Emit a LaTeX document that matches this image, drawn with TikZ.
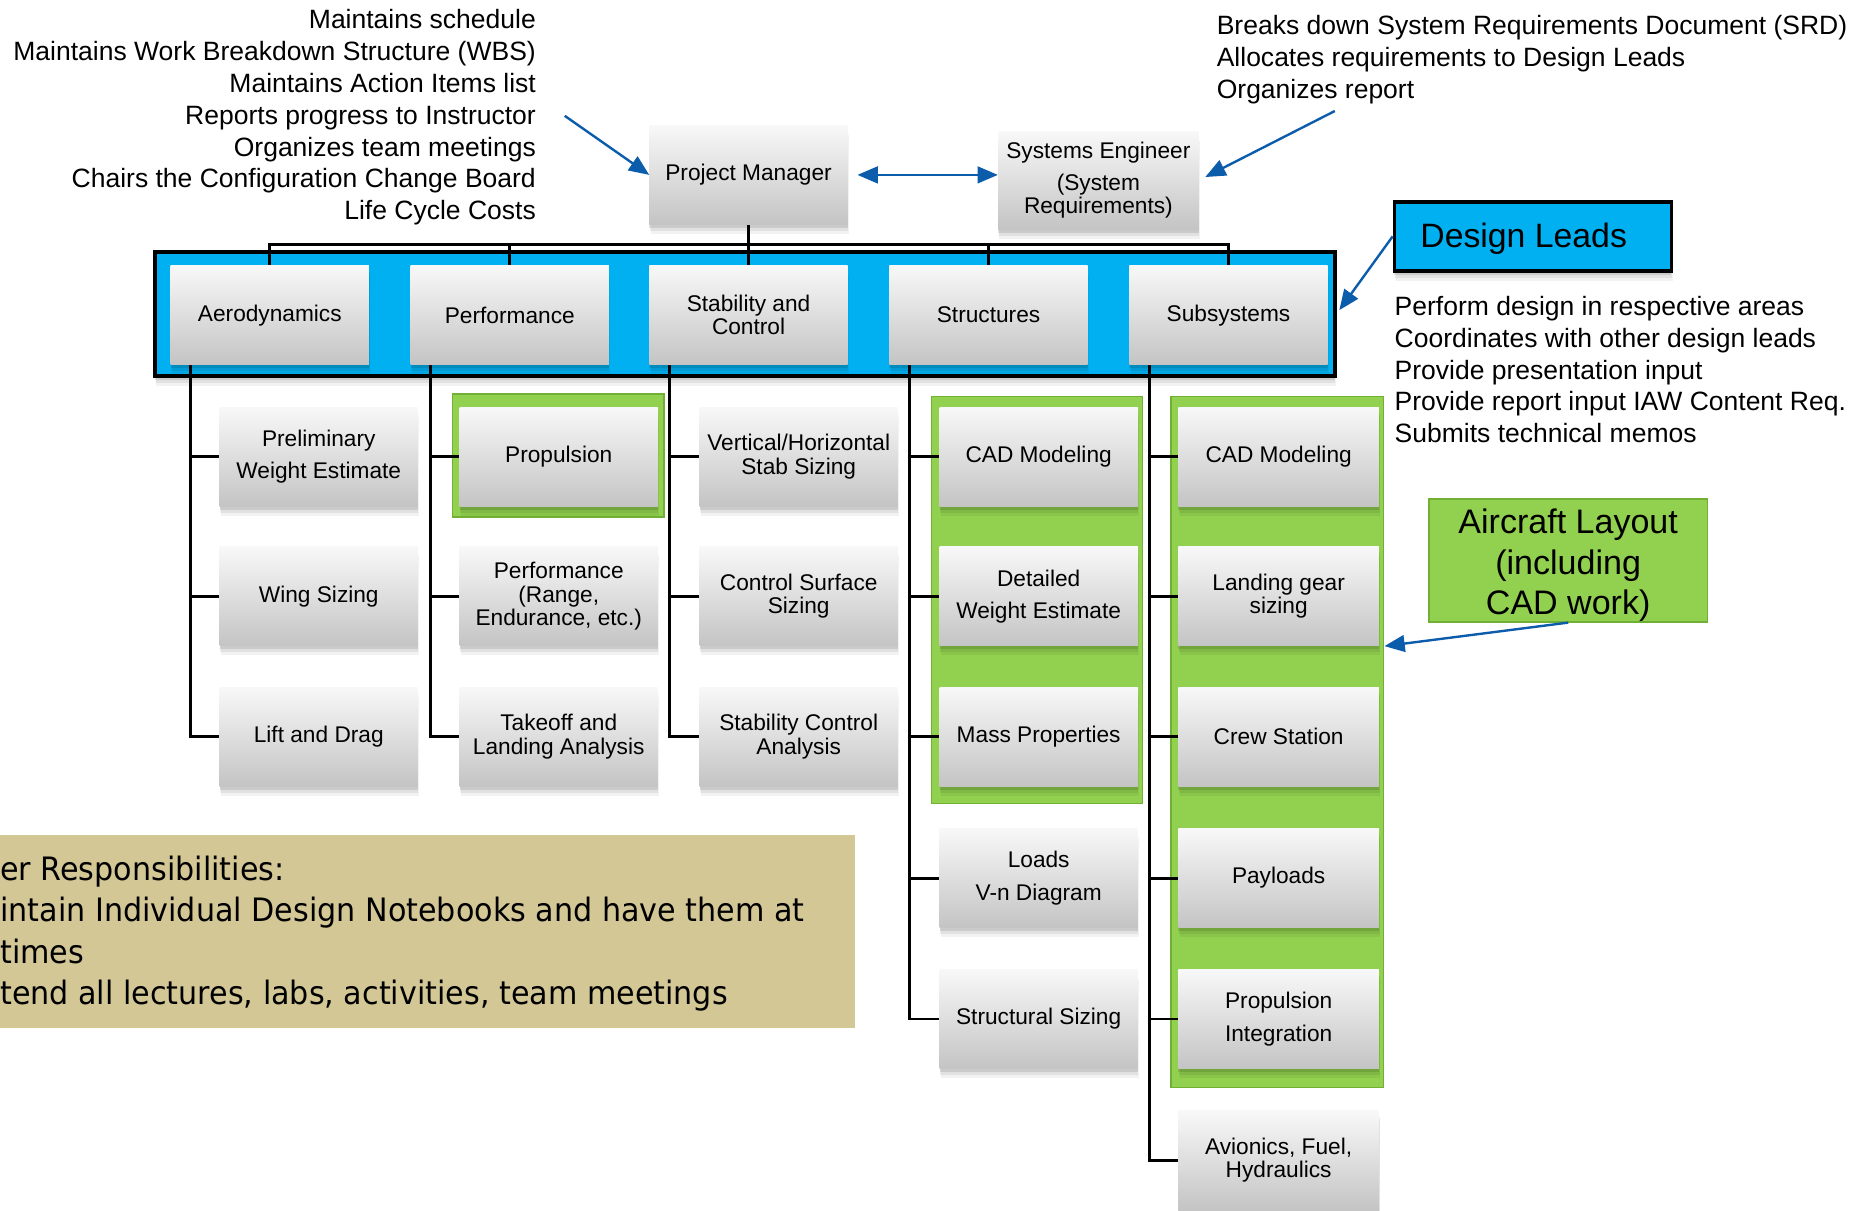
\documentclass[tikz,border=0pt]{standalone}
\usepackage{fontspec}
\setmainfont{Liberation Sans}
\newfontfamily\notefont[FakeStretch=0.936]{DejaVu Sans}
\usetikzlibrary{arrows.meta,shadows,calc}

\definecolor{boxtop}{RGB}{248,248,248}
\definecolor{boxbot}{RGB}{196,196,196}
\definecolor{leadblue}{RGB}{0,176,240}
\definecolor{cadgreen}{RGB}{146,208,80}
\definecolor{cadedge}{RGB}{112,176,52}
\definecolor{arrowblue}{RGB}{12,92,172}
\definecolor{notetan}{RGB}{211,199,150}

\pgfdeclarelayer{back}
\pgfdeclarelayer{mid}
\pgfsetlayers{back,mid,main}

\tikzset{
  softshadow/.style={
    general shadow={fill=black, opacity=0.05, shadow xshift=1pt, shadow yshift=-8pt},
    general shadow={fill=black, opacity=0.07, shadow xshift=0.5pt, shadow yshift=-5.5pt},
    general shadow={fill=black, opacity=0.10, shadow xshift=0pt, shadow yshift=-3pt}},
  taskbox/.style={rectangle, softshadow, top color=boxtop, bottom color=boxbot,
    minimum width=166pt, minimum height=83pt, inner sep=2pt, align=center,
    font=\fontsize{19}{19.5}\selectfont},
  leadband/.style={rectangle, draw=black, line width=3pt, fill=leadblue, softshadow},
  cadframe/.style={rectangle, draw=cadedge, line width=1.2pt, fill=cadgreen},
  conn/.style={draw=black, line width=2.4pt},
  bluearrow/.style={draw=arrowblue, line width=2pt, -{Triangle[length=17pt,width=14pt]}},
  notetext/.style={inner sep=0pt, font=\fontsize{22.2}{26.6}\selectfont},
}

\begin{document}
\begin{tikzpicture}[x=1pt, y=-1pt]
\useasboundingbox (0,0) rectangle (1568,1014);

% ---- free text lists ----
\node[notetext, anchor=north east, align=right] (pmnote) at (449,8)
  {Maintains schedule\\Maintains Work Breakdown Structure (WBS)\\Maintains Action Items list\\Reports progress to Instructor\\Organizes team meetings\\Chairs the Configuration Change Board\\Life Cycle Costs};
\node[notetext, anchor=north west, align=left] (senote) at (1019,13)
  {Breaks down System Requirements Document (SRD)\\Allocates requirements to Design Leads\\Organizes report};
\node[notetext, anchor=north west, align=left] (dlnote) at (1168,248)
  {Perform design in respective areas\\Coordinates with other design leads\\Provide presentation input\\Provide report input IAW Content Req.\\Submits technical memos};

% ---- management ----
\node[taskbox] (pm) at (627,146.5) {Project Manager};
\node[taskbox, minimum width=168pt, minimum height=82pt] (se) at (920,151)
  {Systems Engineer\\[7pt](System\\Requirements)};

% ---- design lead band and CAD frames ----
\begin{pgfonlayer}{back}
\node[leadband, minimum width=988pt, minimum height=104pt] (band) at (624,263) {};
\node[cadframe, minimum width=177pt, minimum height=103pt] (gfprop) at (467.5,381.5) {};
\node[cadframe, minimum width=177pt, minimum height=341pt] (gfstruc) at (868.5,502.5) {};
\node[cadframe, minimum width=178pt, minimum height=579pt] (gfsub) at (1070,621.5) {};
\end{pgfonlayer}

% ---- design leads ----
\node[taskbox] (aero)  at (226,264) {Aerodynamics};
\node[taskbox] (perf)  at (427,264) {Performance};
\node[taskbox] (stab)  at (627,264) {Stability and\\Control};
\node[taskbox] (struc) at (828,264) {Structures};
\node[taskbox] (subs)  at (1029,264) {Subsystems};

% ---- tasks ----
\node[taskbox] (pwe)  at (267,382.5) {Preliminary\\[7.5pt]Weight Estimate};
\node[taskbox] (wing) at (267,499.5) {Wing Sizing};
\node[taskbox] (lad)  at (267,617)   {Lift and Drag};

\node[taskbox] (prop)  at (468,382.5) {Propulsion};
\node[taskbox] (perfr) at (468,499.5) {Performance\\(Range,\\Endurance, etc.)};
\node[taskbox] (tla)   at (468,617)   {Takeoff and\\Landing Analysis};

\node[taskbox] (vhs) at (669,382.5) {Vertical/Horizontal\\Stab Sizing};
\node[taskbox] (css) at (669,499.5) {Control Surface\\Sizing};
\node[taskbox] (sca) at (669,617)   {Stability Control\\Analysis};

\node[taskbox] (cad1)  at (870,382.5) {CAD Modeling};
\node[taskbox] (dwe)   at (870,499.5) {Detailed\\[7.5pt]Weight Estimate};
\node[taskbox] (mass)  at (870,617)   {Mass Properties};
\node[taskbox] (loads) at (870,735.5) {Loads\\[8pt]V-n Diagram};
\node[taskbox] (ssz)   at (870,853.5) {Structural Sizing};

\node[taskbox, minimum width=168pt] (cad2) at (1071,382.5) {CAD Modeling};
\node[taskbox, minimum width=168pt] (lgs)  at (1071,499.5) {Landing gear\\sizing};
\node[taskbox, minimum width=168pt] (crew) at (1071,617)   {Crew Station};
\node[taskbox, minimum width=168pt] (pay)  at (1071,735.5) {Payloads};
\node[taskbox, minimum width=168pt] (pint) at (1071,853.5) {Propulsion\\[8pt]Integration};
\node[taskbox, minimum width=168pt] (afh)  at (1071,972)   {Avionics, Fuel,\\Hydraulics};

% ---- tree connectors ----
\coordinate (busL) at (226,205);
\coordinate (busR) at (1029,205);
\begin{pgfonlayer}{mid}
\draw[conn] (aero.north) -- (busL) -- (busR) -- (subs.north);
\draw[conn] (pm.south) -- (stab.north);
\draw[conn] (perf.north) -- (perf.north |- busL);
\draw[conn] (struc.north) -- (struc.north |- busL);
\foreach \lead/\last in {aero/lad, perf/tla, stab/sca, struc/ssz, subs/afh} {
  \coordinate (\lead-t) at ([xshift=17pt]\lead.south west);
  \draw[conn] (\lead-t) |- (\last.west);
}
\foreach \lead/\kid in {aero/pwe, aero/wing, perf/prop, perf/perfr, stab/vhs, stab/css,
    struc/cad1, struc/dwe, struc/mass, struc/loads,
    subs/cad2, subs/lgs, subs/crew, subs/pay, subs/pint} {
  \draw[conn] (\kid.west) -- (\kid.west -| \lead-t);
}
\end{pgfonlayer}

% ---- labels on the right ----
\node[leadband, minimum width=232pt, minimum height=58pt] (dl) at (1284,198) {};
\node[anchor=west, inner sep=0pt, font=\fontsize{28.3}{34}\selectfont] (dltxt)
  at ($(dl.west)+(23,2)$) {Design Leads};
\node[cadframe, line width=1pt, minimum width=233pt, minimum height=103pt] (al) at (1313.5,469.5) {};
\node[inner sep=0pt, align=center, font=\fontsize{28.5}{34}\selectfont] (altxt)
  at ($(al.center)+(0,4)$) {Aircraft Layout\\(including\\CAD work)};

% ---- team responsibilities ----
\node[rectangle, fill=notetan, minimum width=740pt, minimum height=162pt, anchor=north east]
  (note) at (716,699) {};
\node[anchor=north west, inner sep=0pt, align=left,
  font=\notefont\fontsize{27}{34.5}\selectfont] (notetxt) at (0,717)
  {er Responsibilities:\\intain Individual Design Notebooks and have them at\\times\\tend all lectures, labs, activities, team meetings};

% ---- blue pointers ----
\coordinate (pmtail) at (473,97);
\coordinate (setail) at (1118,93);
\draw[bluearrow] (pmtail) -- (pm.west);
\draw[bluearrow, shorten >=6pt] (setail) -- (se.east);
\draw[bluearrow, {Triangle[length=17pt,width=14pt]}-{Triangle[length=17pt,width=14pt]}, shorten <=8pt]
  (pm.east) -- (pm.east -| se.west);
\draw[bluearrow, shorten >=4pt] (dl.west) -- (band.east);
\draw[bluearrow] (al.south) -- (gfsub.east |- lgs.south);
\end{tikzpicture}
\end{document}
